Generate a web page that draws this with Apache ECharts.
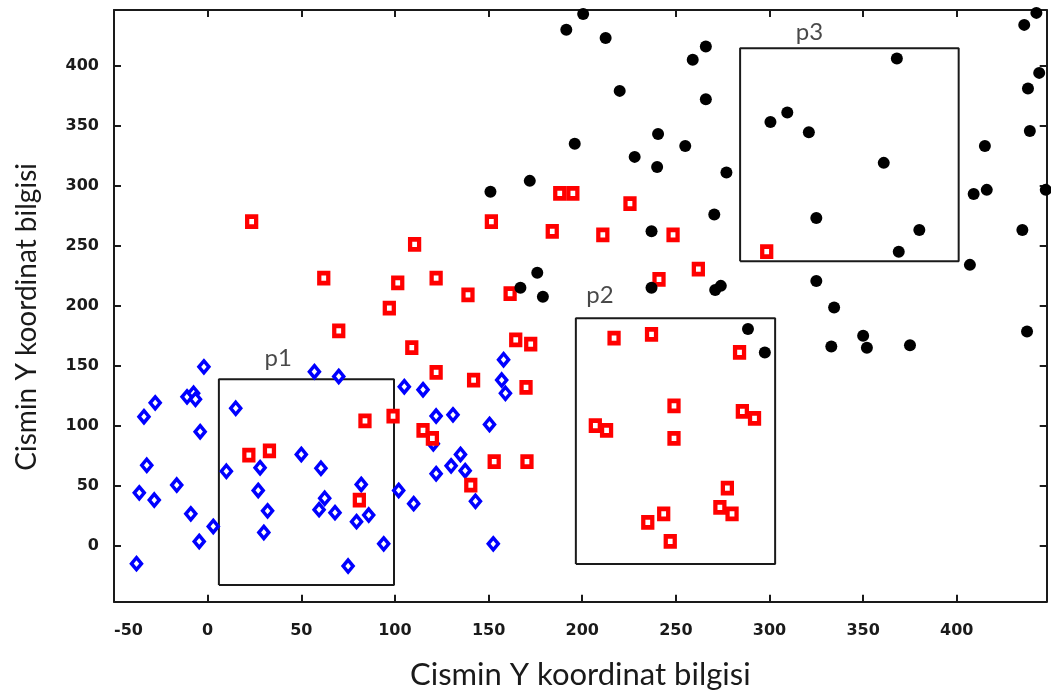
<!DOCTYPE html>
<html>
<head>
<meta charset="utf-8">
<script src="https://cdn.jsdelivr.net/npm/echarts@6/dist/echarts.min.js"></script>
<style>
html,body{margin:0;padding:0;background:#fff;}
#chart{width:1051px;height:691px;}
</style>
</head>
<body>
<div id="chart"></div>
<script>
// ---- data ----
var xTicks = [-50, 0, 50, 100, 150, 200, 250, 300, 350, 400];
var yTicks = [0, 50, 100, 150, 200, 250, 300, 350, 400];
var xRange = [-50, 448];
var yRange = [-46.7, 446.4];
var axisTitle = 'Cismin Y koordinat bilgisi';

var bluePoints = [
  [-2,149],[-34,107.5],[-28,119],[-11,124],[-7.5,127],[-6.5,122],[-4,95],[15,114.5],
  [-32.5,67],[-36.5,44],[-28.5,38],[-16.5,50.5],[-9,26.5],[-4.5,3.5],[3,16],[-38,-15],
  [10,62],[28,65],[27,46],[32,29],[30,11],[50,76],[60.5,64.5],[62.5,39.5],[59.5,30],
  [68,27.5],[57,145],[70,141],[82,51],[79.5,20],[86,25.5],[75,-17],[94,1.5],[105,132.5],
  [102,46],[110,35],[115,130],[158,155],[157,138],[159,127],[122,108],[131,109],
  [150.5,101],[120.5,85],[135,76],[130,66.5],[137.5,62.5],[122,60],[143,37],[152.5,1.5]
];
var redPoints = [
  [23.5,270],[62,223],[101.5,219],[97,198],[70,179],[22,75.5],[33,79],[84,104],[99,108],
  [81,38],[109,165],[115,96],[120,89.5],[188,293.5],[195,293.5],[225.5,285],[151.5,270],
  [110.5,251],[184,262],[211,259],[248.5,259],[262,230.5],[241,222],[122,223],[139,209],
  [161.5,210],[164.5,171.5],[172.5,168],[122,144.5],[142,138],[170,132],[153,70],
  [170.5,70],[140.5,50.5],[217,173],[237,176],[284,161],[249,116.5],[207,100],[213,96],
  [249,89.5],[285.5,112],[292,106],[277.5,48],[273.5,32],[280,26.5],[243.5,26.5],
  [235,19.5],[247,3.5],[298.5,245]
];
var blackPoints = [
  [200.5,443],[191.5,430],[212.5,423],[266,416],[259,405],[220,379],[266,372],[240.5,343],
  [196,335],[255,333],[228,324],[240,315.5],[277,311],[172,304],[151,295],[270.5,276],
  [237,262],[176,227.5],[167,215],[179,207.5],[237,215],[271,213],[274,216.5],
  [442.5,444],[436,434],[368,406],[444,394],[438,381],[309.5,361],[300.5,353],[321,344.5],
  [439,345.5],[415,333],[361,319],[447.5,296.5],[409,293],[416,296.5],[325,273],[380,263],
  [435,263],[369,245],[407,234],[325,220.5],[334.5,198.5],[288.5,180.5],[297.5,161],
  [333,166],[350,175],[352,165],[375,167],[437.5,178.5]
];
// region boxes: name, x0, x1, y0, y1 (data units)
var boxNames = ['p1', 'p2', 'p3'];
var boxX0 = [6, 196.6, 284.3];
var boxX1 = [99.5, 303, 401];
var boxY0 = [-32.8, -15.3, 237];
var boxY1 = [138.7, 189.5, 414.5];
var boxLabelX = [37.7, 209.5, 321.3];
var boxLabelY = [156, 209, 427.8];

// ---- chart ----
var chart = echarts.init(document.getElementById('chart'), null, {renderer: 'canvas'});
var ink = '#1a1a1a';
var labelFont = {fontFamily: 'DejaVu Sans', fontSize: 16, fontWeight: 'bold', color: ink};

function mkX(pos, showLabels) {
  return {
    type: 'value', position: pos, min: xRange[0], max: xRange[1],
    splitLine: {show: false},
    axisLine: {show: true, onZero: false, lineStyle: {color: ink, width: 2}},
    axisTick: {show: true, inside: true, length: 7, customValues: xTicks, lineStyle: {color: ink, width: 2}},
    axisLabel: Object.assign({show: showLabels, margin: 21, customValues: xTicks, alignMinLabel: 'left'}, labelFont),
    name: showLabels ? axisTitle : '',
    nameLocation: 'middle', nameGap: 58,
    nameTextStyle: {fontFamily: 'Lato', fontSize: 31, color: ink}
  };
}
function mkY(pos, showLabels) {
  return {
    type: 'value', position: pos, min: yRange[0], max: yRange[1],
    splitLine: {show: false},
    axisLine: {show: true, onZero: false, lineStyle: {color: ink, width: 2}},
    axisTick: {show: true, inside: true, length: 7, customValues: yTicks, lineStyle: {color: ink, width: 2}},
    axisLabel: Object.assign({show: showLabels, margin: 15, customValues: yTicks}, labelFont),
    name: showLabels ? axisTitle : '',
    nameLocation: 'middle', nameGap: 73, nameRotate: 90,
    nameTextStyle: {fontFamily: 'Lato', fontSize: 28, color: ink, padding: [0, 22, 0, 0]}
  };
}

var series = [];
boxNames.forEach(function (n, i) {
  series.push({
    type: 'line', name: n, silent: true, symbol: 'none', z: 1,
    lineStyle: {color: ink, width: 2},
    data: [[boxX0[i], boxY0[i]], [boxX1[i], boxY0[i]], [boxX1[i], boxY1[i]], [boxX0[i], boxY1[i]], [boxX0[i], boxY0[i]]]
  });
});
series.push({
  type: 'scatter', name: 'blue', symbol: 'diamond', symbolSize: [10, 12], z: 3,
  itemStyle: {color: '#fff', borderColor: '#0000ff', borderWidth: 3.5, opacity: 1},
  data: bluePoints
});
series.push({
  type: 'scatter', name: 'red', symbol: 'rect', symbolSize: [9, 10], z: 4,
  itemStyle: {color: '#fff', borderColor: '#ff0000', borderWidth: 4.5, opacity: 1},
  data: redPoints
});
series.push({
  type: 'scatter', name: 'black', symbol: 'circle', symbolSize: 12, z: 5,
  itemStyle: {color: '#000', opacity: 1},
  data: blackPoints
});
series.push({
  type: 'scatter', name: 'boxLabels', symbolSize: 0, silent: true, z: 6,
  label: {show: true, position: 'inside', formatter: function (p) { return p.name; },
          fontFamily: 'Lato', fontSize: 24, color: ink},
  data: boxNames.map(function (n, i) { return {name: n, value: [boxLabelX[i], boxLabelY[i]]}; })
});

chart.setOption({
  animation: false,
  backgroundColor: '#fff',
  grid: {left: 114, right: 4.3, top: 10, bottom: 89.3, containLabel: false, outerBoundsMode: 'none'},
  xAxis: [mkX('bottom', true), mkX('top', false)],
  yAxis: [mkY('left', true), mkY('right', false)],
  series: series
});
</script>
</body>
</html>
